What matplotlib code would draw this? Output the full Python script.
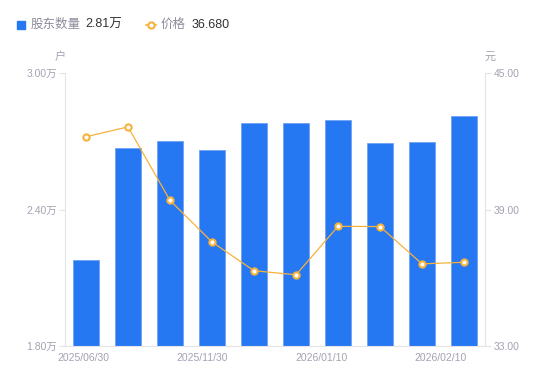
import numpy as np
import matplotlib
matplotlib.use("Agg")
import matplotlib.pyplot as plt
from matplotlib.lines import Line2D

plt.rcParams["font.family"] = ["Liberation Sans", "Noto Sans CJK SC", "DejaVu Sans"]

# ─── Data ────────────────────────────────────────────────────────────────────
holders = [2.18, 2.67, 2.70, 2.662, 2.78, 2.78, 2.792, 2.692, 2.698, 2.81]   # 万户
price = [42.20, 42.63, 39.40, 37.57, 36.31, 36.13, 38.26, 38.25, 36.61, 36.68]
date_labels = ["2025/06/30", "2025/11/30", "2026/01/10", "2026/02/10"]
left_ticks = [1.80, 2.40, 3.00]
right_ticks = [33.00, 39.00, 45.00]

BLUE = "#2677f2"
ORANGE = "#f7b23b"
AXIS = "#e3e3e8"
TICK_TXT = "#a3a3b2"

fig = plt.figure(figsize=(5.5, 3.81), dpi=100)
ax = fig.add_axes([65 / 550, 35 / 381, 420 / 550, 273 / 381])
ax2 = ax.twinx()

x = np.arange(len(holders))
ax.bar(x, holders, width=0.6, color=BLUE, edgecolor="#6fa3f5", linewidth=0.6, zorder=2)
ax.set_xlim(-0.5, len(holders) - 0.5)
ax.set_ylim(1.80, 3.00)
ax.set_yticks(left_ticks)
ax.set_yticklabels([f"{v:.2f}万" for v in left_ticks])

ax2.plot(x, price, color=ORANGE, lw=0.9, marker="o", ms=4.5, mfc="white",
         mec=ORANGE, mew=1.5, zorder=3)
ax2.set_ylim(33, 45)
ax2.set_yticks(right_ticks)
ax2.set_yticklabels([f"{v:.2f}" for v in right_ticks])

# x labels spread evenly along the axis
ax.set_xticks(np.linspace(-0.07, 8.45, len(date_labels)))
ax.set_xticklabels(date_labels)

for a in (ax, ax2):
    for s in a.spines.values():
        s.set_visible(False)
    a.tick_params(colors=AXIS, labelcolor=TICK_TXT, labelsize=7.5, length=4, width=0.8)
ax.spines["left"].set_visible(True)
ax.spines["left"].set_color(AXIS)
ax.spines["bottom"].set_visible(True)
ax.spines["bottom"].set_color(AXIS)
ax2.spines["right"].set_visible(True)
ax2.spines["right"].set_color(AXIS)
ax.tick_params(axis="x", length=0, pad=5)
ax.tick_params(axis="y", pad=2)
ax2.tick_params(axis="y", pad=2)

fig.text(60 / 550, 1 - 57 / 381, "户", fontsize=8, color=TICK_TXT, ha="center", va="center")
fig.text(490 / 550, 1 - 57 / 381, "元", fontsize=8, color=TICK_TXT, ha="center", va="center")

# ─── Legend row ──────────────────────────────────────────────────────────────
ly = 1 - 25 / 381
fig.patches.append(plt.Rectangle((17 / 550, 1 - 29 / 381), 8 / 550, 8 / 381,
                                 transform=fig.transFigure, color=BLUE, figure=fig))
fig.text(31 / 550, ly, "股东数量", fontsize=9, color="#8c8c9c", va="center")
fig.text(85 / 550, ly, f"{holders[-1]:.2f}万", fontsize=9, color="#333333", va="center")
fig.lines.append(Line2D([146 / 550, 156 / 550], [ly, ly], transform=fig.transFigure,
                        color=ORANGE, lw=1.2))
fig.lines.append(Line2D([151 / 550], [ly], transform=fig.transFigure, color=ORANGE,
                        marker="o", ms=4.5, mfc="white", mew=1.5, lw=0))
fig.text(161 / 550, ly, "价格", fontsize=9, color="#8c8c9c", va="center")
fig.text(192 / 550, ly, f"{price[-1]:.3f}", fontsize=9, color="#333333", va="center")

fig.savefig("out.png", dpi=100)
